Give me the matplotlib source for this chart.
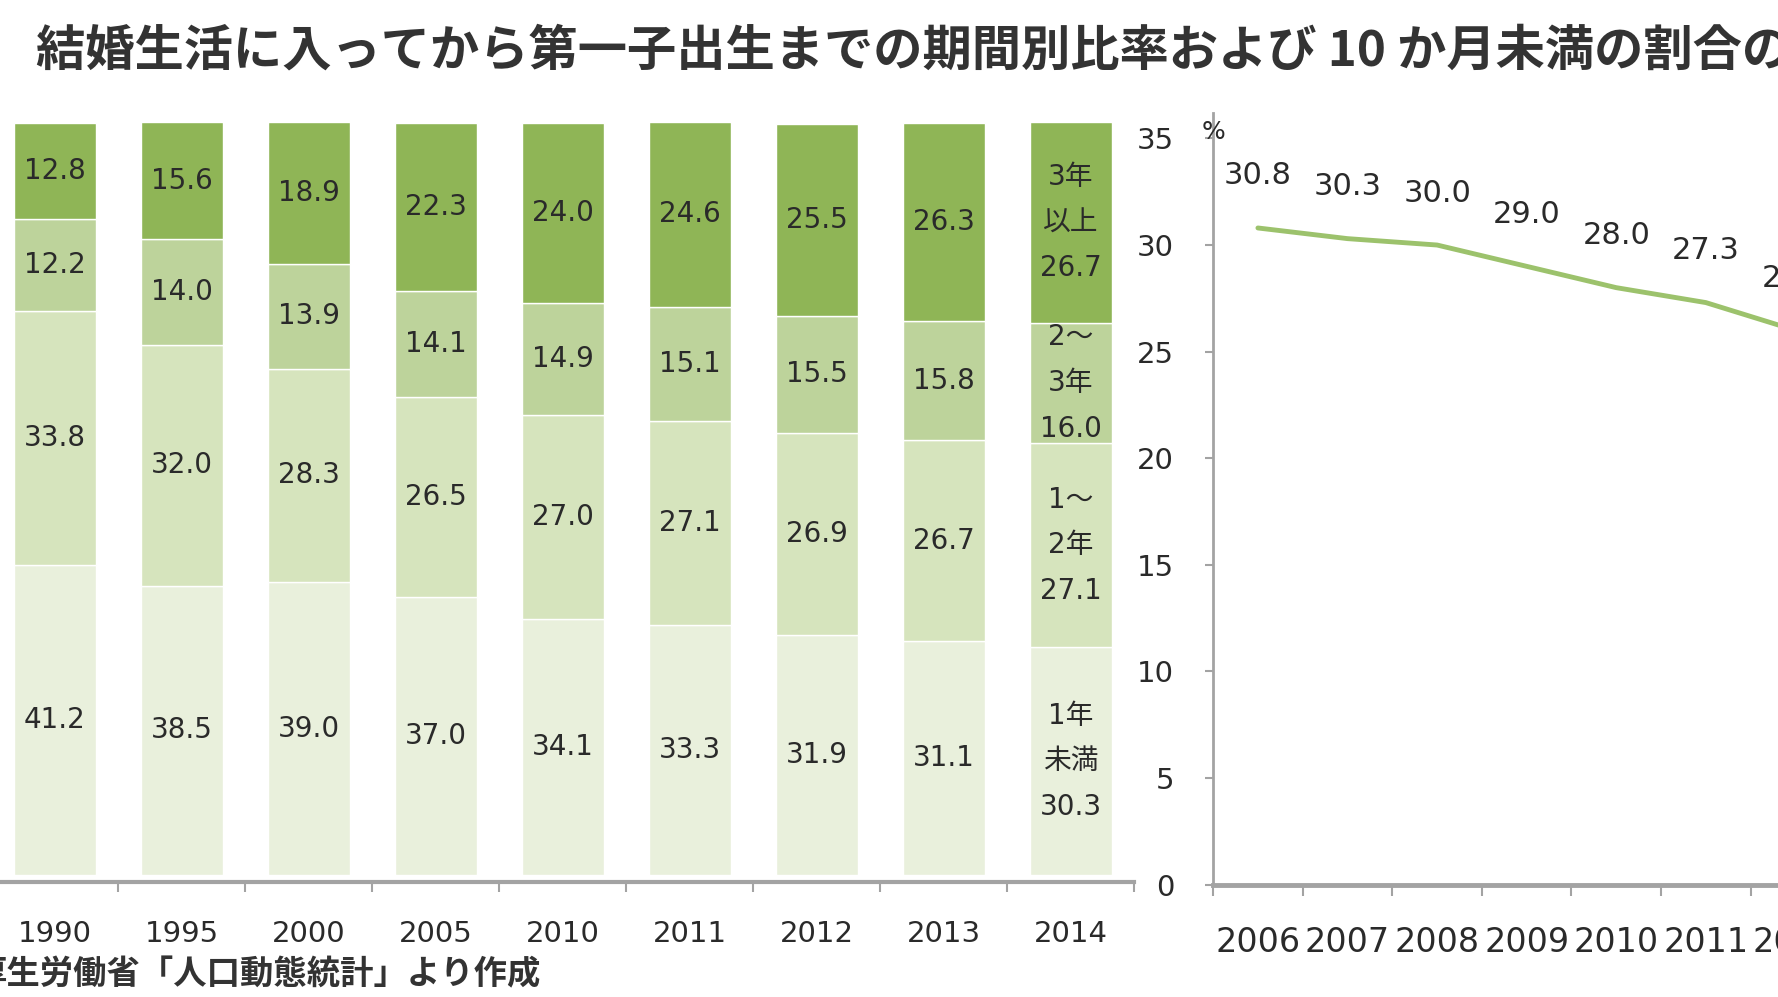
import numpy as np
import matplotlib
matplotlib.use("Agg")
import matplotlib.pyplot as plt

plt.rcParams['font.family'] = ['DejaVu Sans', 'Noto Sans CJK JP']

# left: stacked share of period from marriage to first birth (%)
years = ['1990', '1995', '2000', '2005', '2010', '2011', '2012', '2013', '2014']
under_1y = [41.2, 38.5, 39.0, 37.0, 34.1, 33.3, 31.9, 31.1, 30.3]
y1_2 = [33.8, 32.0, 28.3, 26.5, 27.0, 27.1, 26.9, 26.7, 27.1]
y2_3 = [12.2, 14.0, 13.9, 14.1, 14.9, 15.1, 15.5, 15.8, 16.0]
over_3y = [12.8, 15.6, 18.9, 22.3, 24.0, 24.6, 25.5, 26.3, 26.7]
seg_names = ['1年\n未満', '1～\n2年', '2～\n3年', '3年\n以上']

# right: share under 10 months (%)
line_years = ['2006', '2007', '2008', '2009', '2010', '2011', '2012']
under_10m = [30.8, 30.3, 30.0, 29.0, 28.0, 27.3, 26.0]

colors = ['#e9f0dc', '#d6e4bd', '#bdd39b', '#8fb556']
txt = '#2a2a2a'
grey = '#a3a3a3'

fig = plt.figure(figsize=(17.78, 9.97), dpi=100)
fig.patch.set_facecolor('white')

fig.text(0.02, 0.949, '結婚生活に入ってから第一子出生までの期間別比率および 10 か月未満の割合の',
         fontsize=35.5, fontweight='bold', color='#333333', va='center', ha='left',
         family=['Noto Sans CJK JP'])

# ---- stacked bars
ax = fig.add_axes([-0.0048, 0.122, 0.6428, 0.755])
x = np.arange(len(years))
series = [under_1y, y1_2, y2_3, over_3y]
bottom = np.zeros(len(years))
for k, vals in enumerate(series):
    vals = np.array(vals)
    ax.bar(x, vals, bottom=bottom, width=0.65, color=colors[k],
           edgecolor='white', linewidth=1)
    for i, v in enumerate(vals):
        yc = bottom[i] + v / 2
        if i == len(years) - 1:
            ax.text(x[i], yc, seg_names[k] + '\n' + f'{v:.1f}', ha='center', va='center',
                    fontsize=20, color=txt, linespacing=1.8,
                    family=['DejaVu Sans', 'Noto Sans CJK JP'])
        else:
            ax.text(x[i], yc, f'{v:.1f}', ha='center', va='center', fontsize=20, color=txt)
    bottom += vals

ax.set_xlim(-0.5, len(years) - 0.5)
ax.set_ylim(0, 100)
for s in ['top', 'right', 'left']:
    ax.spines[s].set_visible(False)
ax.spines['bottom'].set_position(('outward', 5))
ax.spines['bottom'].set_color(grey)
ax.spines['bottom'].set_linewidth(3)
ax.set_yticks([])
ax.set_xticks(np.arange(len(years) + 1) - 0.5)
ax.set_xticklabels([])
ax.tick_params(axis='x', length=7, width=1.5, color=grey)
ax.set_xticks(x, minor=True)
ax.set_xticklabels(years, minor=True, fontsize=21, color=txt)
ax.tick_params(axis='x', which='minor', length=0, pad=27)
ax.patch.set_alpha(0)

# ---- line chart
ax2 = fig.add_axes([0.6823, 0.1128, 0.3527, 0.774])
xl = np.arange(len(line_years))
ax2.plot(xl, under_10m, color='#9cc26c', linewidth=3.5, solid_capstyle='round')
for i, v in enumerate(under_10m):
    ax2.annotate(f'{v:.1f}', (xl[i], v), xytext=(0, 52), textcoords='offset pixels',
                 ha='center', va='center', fontsize=22, color=txt)
ax2.set_xlim(-0.5, len(line_years) - 0.5)
ax2.set_ylim(0, 36.2)
ax2.set_yticks(np.arange(0, 36, 5))
ax2.set_yticklabels([str(t) for t in range(0, 36, 5)], fontsize=21, color=txt)
ax2.tick_params(axis='y', length=6, width=1.5, color=grey, pad=22)
ax2.set_xticks(np.arange(len(line_years) + 1) - 0.5)
ax2.set_xticklabels([])
ax2.tick_params(axis='x', length=8, width=1.5, color=grey)
ax2.set_xticks(xl, minor=True)
ax2.set_xticklabels(line_years, minor=True, fontsize=24, color=txt)
ax2.tick_params(axis='x', which='minor', length=0, pad=30)
for s in ['top', 'right']:
    ax2.spines[s].set_visible(False)
ax2.spines['left'].set_color(grey)
ax2.spines['left'].set_linewidth(2)
ax2.spines['bottom'].set_color(grey)
ax2.spines['bottom'].set_linewidth(3.5)
ax2.text(0.0, 35.3, '%', transform=ax2.get_yaxis_transform(), ha='center', va='center',
         fontsize=18, color=txt)
ax2.patch.set_alpha(0)

fig.text(-0.015, 0.022, '厚生労働省「人口動態統計」より作成', fontsize=24, fontweight='bold',
         color='#333333', ha='left', va='center', family=['Noto Sans CJK JP'])

fig.savefig('out.png', dpi=100)
